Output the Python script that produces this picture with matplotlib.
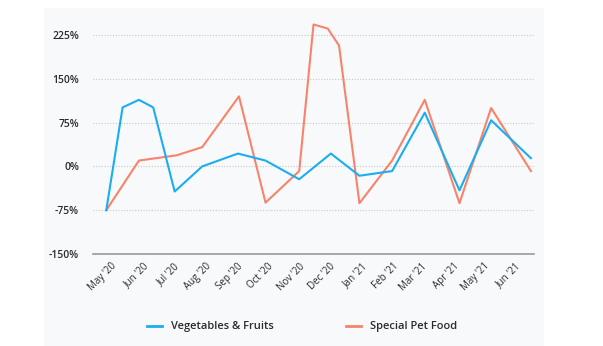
import matplotlib.pyplot as plt
import matplotlib.dates as mdates
from matplotlib.patches import Rectangle
from matplotlib.lines import Line2D

plt.rcParams['font.family'] = ['Open Sans', 'DejaVu Sans']

# vegetables & fruits, % change
veg_dates = ['2020-04-26', '2020-05-12', '2020-05-28', '2020-06-11', '2020-07-02',
             '2020-07-29', '2020-09-02', '2020-09-29', '2020-11-01', '2020-12-02',
             '2020-12-30', '2021-01-31', '2021-03-04', '2021-04-07', '2021-05-08',
             '2021-06-16']
veg_values = [-75, 101, 114, 101, -43, 0, 22, 10, -22, 22, -16, -8, 92, -41, 79, 14]

# special pet food, % change
pet_dates = ['2020-04-26', '2020-05-28', '2020-07-04', '2020-07-29', '2020-09-03',
             '2020-09-29', '2020-11-01', '2020-11-15', '2020-11-29', '2020-12-10',
             '2020-12-30', '2021-01-31', '2021-03-04', '2021-04-07', '2021-05-08',
             '2021-06-16']
pet_values = [-75, 10, 19, 33, 120, -62, -8, 243, 236, 207, -63, 10, 114, -63, 100, -8]

month_starts = ['2020-05-01', '2020-06-01', '2020-07-01', '2020-08-01', '2020-09-01',
                '2020-10-01', '2020-11-01', '2020-12-01', '2021-01-01', '2021-02-01',
                '2021-03-01', '2021-04-01', '2021-05-01', '2021-06-01']
month_labels = ["May '20", "Jun '20", "Jul '20", "Aug '20", "Sep '20", "Oct '20",
                "Nov '20", "Dec '20", "Jan '21", "Feb '21", "Mar '21", "Apr '21",
                "May '21", "Jun '21"]
y_ticks = [-150, -75, 0, 75, 150, 225]

blue = '#1aaef0'
salmon = '#f8836c'
text_col = '#2b2b2b'

fig = plt.figure(figsize=(6.03, 3.46), dpi=100)
fig.patch.set_facecolor('white')
# light card behind the chart
fig.patches.append(Rectangle((44 / 603, 0), 500 / 603, 338 / 346, transform=fig.transFigure,
                             facecolor='#f8f9fa', edgecolor='none', zorder=-1))

ax = fig.add_axes([93 / 603, 92 / 346, 441 / 603, 240.6 / 346])
ax.set_facecolor('none')

ax.plot(mdates.datestr2num(pet_dates), pet_values, color=salmon, lw=1.5, zorder=3)
ax.plot(mdates.datestr2num(veg_dates), veg_values, color=blue, lw=1.5, zorder=4)

ax.set_xlim(mdates.datestr2num('2020-04-13'), mdates.datestr2num('2021-06-19'))
ax.set_ylim(-150, 262)

for side in ['top', 'right', 'left']:
    ax.spines[side].set_visible(False)
ax.spines['bottom'].set_color('#9a9a9a')
ax.spines['bottom'].set_linewidth(1.2)

ax.tick_params(axis='both', length=0)
ax.tick_params(axis='y', pad=10)
ax.tick_params(axis='x', pad=5)
ax.set_yticks(y_ticks)
ax.set_yticklabels([f'{v}%' for v in y_ticks], fontsize=7.5, color=text_col, fontweight='semibold')
ax.set_xticks(mdates.datestr2num(month_starts))
ax.set_xticklabels(month_labels, rotation=45, ha='right', va='top', rotation_mode='anchor',
                   fontsize=7, color=text_col)

for v in y_ticks[1:]:
    ax.axhline(v, color='#c8c8c8', lw=0.8, ls=(0, (1, 1.5)), zorder=1)

handles = [Line2D([], [], color=blue, lw=2), Line2D([], [], color=salmon, lw=2)]
fig.legend(handles, ['Vegetables & Fruits', 'Special Pet Food'], loc='center',
           bbox_to_anchor=(302 / 603, 1 - 327 / 346), ncol=2, frameon=False,
           handlelength=1.4, columnspacing=6.5, handletextpad=0.8,
           prop={'size': 8, 'weight': 'semibold'}, labelcolor=text_col)

fig.savefig('out.png', dpi=100)
